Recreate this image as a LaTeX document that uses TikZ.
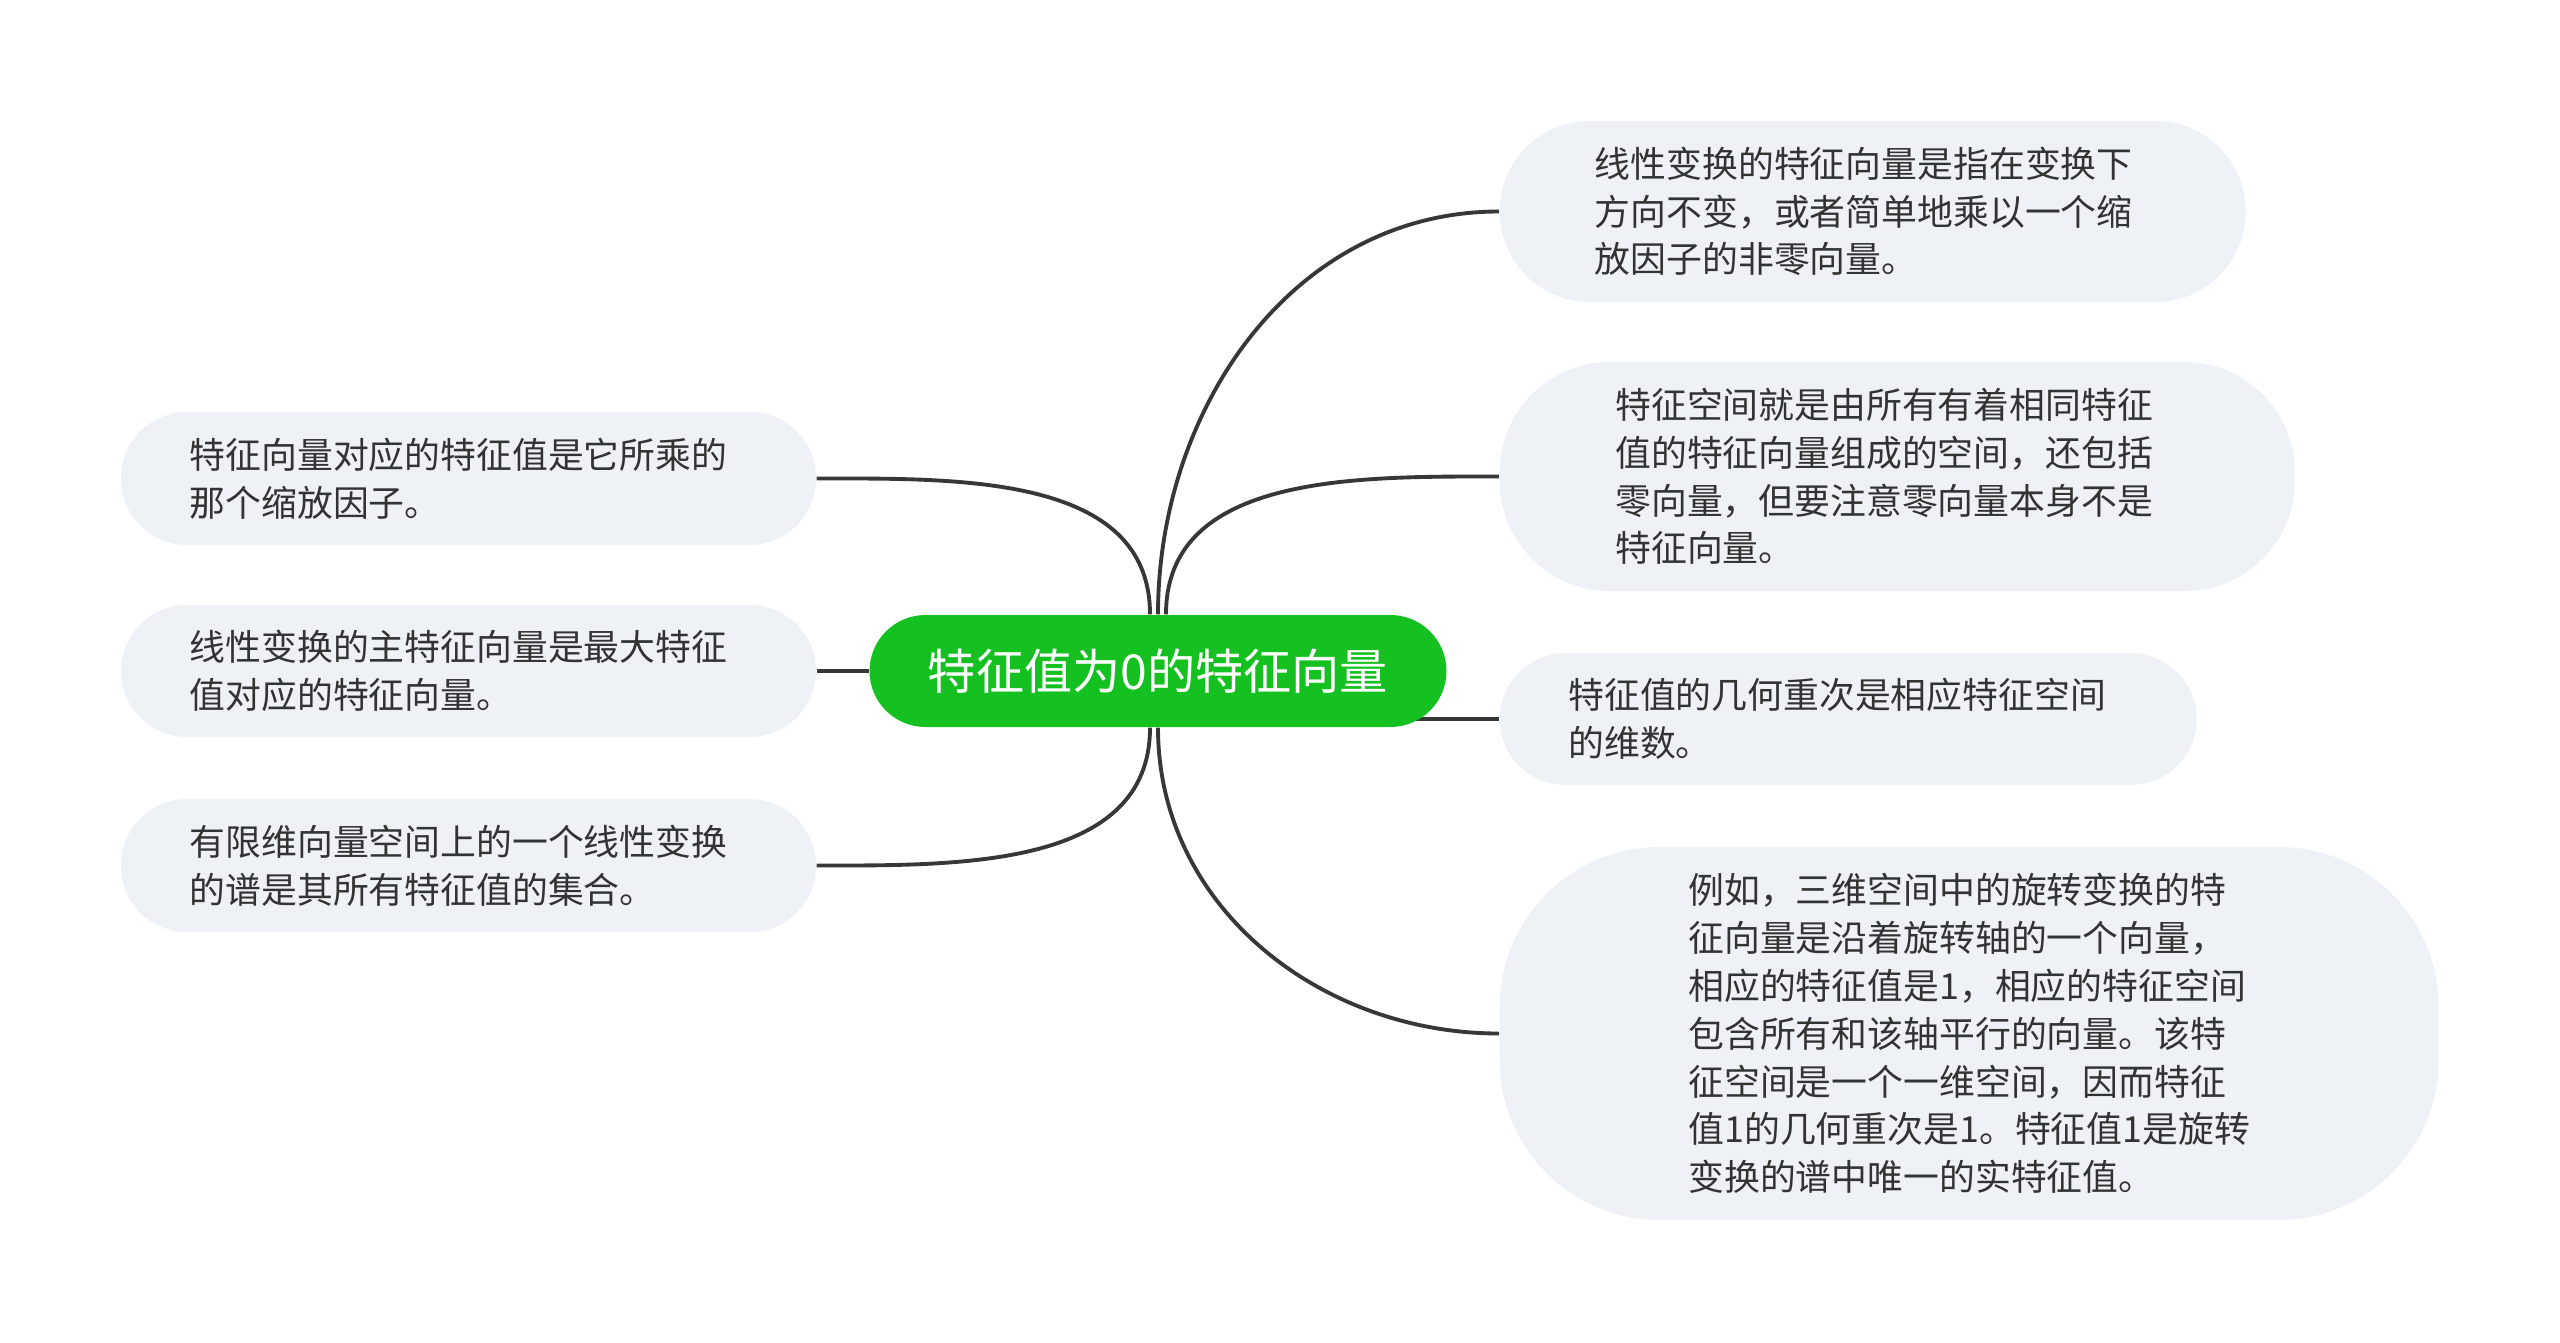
\documentclass[tikz,border=0pt]{standalone}
\usepackage{fontspec}
\usepackage{tikz}
\usetikzlibrary{positioning}
\usetikzlibrary{shapes, arrows, backgrounds}

\newfontfamily\cjk{Noto Sans CJK SC}
\definecolor{rootgreen}{RGB}{21,193,32}
\definecolor{leafgray}{RGB}{238,241,245}
\definecolor{inkgray}{RGB}{51,51,51}
\definecolor{linegray}{RGB}{55,55,55}

\begin{document}
\begin{tikzpicture}[node distance = 2cm, auto]
    \tikzstyle{root} = [rectangle, fill=rootgreen, text=white, rounded corners=0.56cm,
    minimum width=5.77cm, minimum height=1.12cm, inner sep=0pt,
    font=\cjk\fontsize{13.7}{16}\selectfont]
    \tikzstyle{leaf} = [rectangle, fill=leafgray, text=inkgray, align=left, inner sep=0pt,
    font=\cjk\fontsize{10.2}{13.6}\selectfont]
    \tikzstyle{line} = [draw, linegray, line width=1.1pt]
    \useasboundingbox (0,0) rectangle (25.6,-13.42);
    \node [root] at (11.58,-6.71) (topic) {特征值为0的特征向量};
    % right side
    \node [leaf, anchor=west, minimum width=7.46cm, minimum height=1.81cm,
    rounded corners=0.9cm] at (14.99,-2.115) (eigvec)
    {线性变换的特征向量是指在变换下\hspace*{0.18cm}\\方向不变，或者简单地乘以一个缩\\放因子的非零向量。};
    \node [leaf, anchor=west, minimum width=7.95cm, minimum height=2.29cm,
    rounded corners=1.1cm] at (14.99,-4.765) (eigspace)
    {特征空间就是由所有有着相同特征\hspace*{0.26cm}\\值的特征向量组成的空间，还包括\\零向量，但要注意零向量本身不是\\特征向量。};
    \node [leaf, anchor=west, minimum width=6.97cm, minimum height=1.32cm,
    rounded corners=0.66cm] at (14.99,-7.19) (multiplicity)
    {特征值的几何重次是相应特征空间\hspace*{0.22cm}\\的维数。};
    \node [leaf, anchor=west, minimum width=9.39cm, minimum height=3.73cm,
    rounded corners=1.6cm] at (14.99,-10.335) (rotation)
    {例如，三维空间中的旋转变换的特\\征向量是沿着旋转轴的一个向量，\\相应的特征值是1，相应的特征空间\\包含所有和该轴平行的向量。该特\\征空间是一个一维空间，因而特征\\值1的几何重次是1。特征值1是旋转\\变换的谱中唯一的实特征值。};
    % left side
    \node [leaf, left of=topic, node distance=6.895cm, minimum width=6.95cm,
    minimum height=1.32cm, rounded corners=0.66cm] (principal)
    {线性变换的主特征向量是最大特征\hspace*{0.2cm}\\值对应的特征向量。};
    \node [leaf, above of=principal, node distance=1.925cm, minimum width=6.95cm,
    minimum height=1.33cm, rounded corners=0.66cm] (scaling)
    {特征向量对应的特征值是它所乘的\hspace*{0.2cm}\\那个缩放因子。};
    \node [leaf, below of=principal, node distance=1.945cm, minimum width=6.95cm,
    minimum height=1.33cm, rounded corners=0.66cm] (spectrum)
    {有限维向量空间上的一个线性变换\hspace*{0.2cm}\\的谱是其所有特征值的集合。};
    \begin{scope}[on background layer]
    \path [line] (topic.north) to[out=90, in=180] (eigvec.west);
    \path [line] ([xshift=0.08cm]topic.north) to[out=90, in=180] (eigspace.west);
    \path [line] (topic.center |- multiplicity.west) -- (multiplicity.west);
    \path [line] (topic.south) to[out=-90, in=180] (rotation.west);
    \path [line] ([xshift=-0.08cm]topic.north) to[out=90, in=0] (scaling.east);
    \path [line] (topic) -- (principal.east);
    \path [line] ([xshift=-0.08cm]topic.south) to[out=-90, in=0] (spectrum.east);
    \end{scope}
\end{tikzpicture}
\end{document}
